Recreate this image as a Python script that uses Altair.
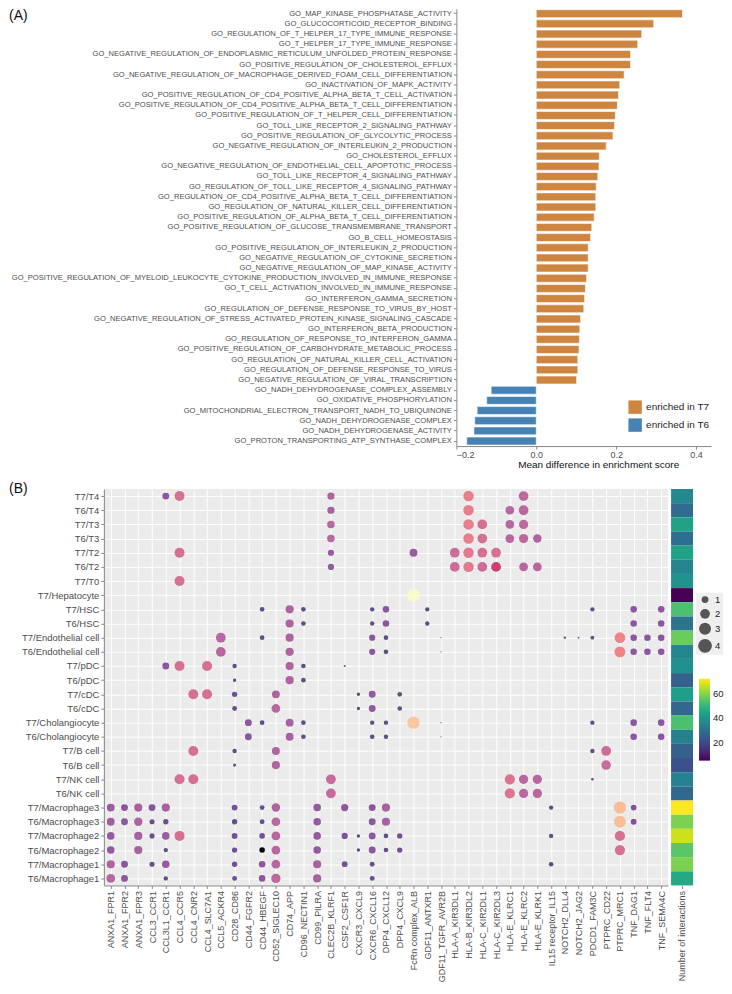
import altair as alt
import pandas as pd

FONT = "Liberation Sans"

# ---------------- Panel A data ----------------
go_terms = [
    "GO_MAP_KINASE_PHOSPHATASE_ACTIVITY",
    "GO_GLUCOCORTICOID_RECEPTOR_BINDING",
    "GO_REGULATION_OF_T_HELPER_17_TYPE_IMMUNE_RESPONSE",
    "GO_T_HELPER_17_TYPE_IMMUNE_RESPONSE",
    "GO_NEGATIVE_REGULATION_OF_ENDOPLASMIC_RETICULUM_UNFOLDED_PROTEIN_RESPONSE",
    "GO_POSITIVE_REGULATION_OF_CHOLESTEROL_EFFLUX",
    "GO_NEGATIVE_REGULATION_OF_MACROPHAGE_DERIVED_FOAM_CELL_DIFFERENTIATION",
    "GO_INACTIVATION_OF_MAPK_ACTIVITY",
    "GO_POSITIVE_REGULATION_OF_CD4_POSITIVE_ALPHA_BETA_T_CELL_ACTIVATION",
    "GO_POSITIVE_REGULATION_OF_CD4_POSITIVE_ALPHA_BETA_T_CELL_DIFFERENTIATION",
    "GO_POSITIVE_REGULATION_OF_T_HELPER_CELL_DIFFERENTIATION",
    "GO_TOLL_LIKE_RECEPTOR_2_SIGNALING_PATHWAY",
    "GO_POSITIVE_REGULATION_OF_GLYCOLYTIC_PROCESS",
    "GO_NEGATIVE_REGULATION_OF_INTERLEUKIN_2_PRODUCTION",
    "GO_CHOLESTEROL_EFFLUX",
    "GO_NEGATIVE_REGULATION_OF_ENDOTHELIAL_CELL_APOPTOTIC_PROCESS",
    "GO_TOLL_LIKE_RECEPTOR_4_SIGNALING_PATHWAY",
    "GO_REGULATION_OF_TOLL_LIKE_RECEPTOR_4_SIGNALING_PATHWAY",
    "GO_REGULATION_OF_CD4_POSITIVE_ALPHA_BETA_T_CELL_DIFFERENTIATION",
    "GO_REGULATION_OF_NATURAL_KILLER_CELL_DIFFERENTIATION",
    "GO_POSITIVE_REGULATION_OF_ALPHA_BETA_T_CELL_DIFFERENTIATION",
    "GO_POSITIVE_REGULATION_OF_GLUCOSE_TRANSMEMBRANE_TRANSPORT",
    "GO_B_CELL_HOMEOSTASIS",
    "GO_POSITIVE_REGULATION_OF_INTERLEUKIN_2_PRODUCTION",
    "GO_NEGATIVE_REGULATION_OF_CYTOKINE_SECRETION",
    "GO_NEGATIVE_REGULATION_OF_MAP_KINASE_ACTIVITY",
    "GO_POSITIVE_REGULATION_OF_MYELOID_LEUKOCYTE_CYTOKINE_PRODUCTION_INVOLVED_IN_IMMUNE_RESPONSE",
    "GO_T_CELL_ACTIVATION_INVOLVED_IN_IMMUNE_RESPONSE",
    "GO_INTERFERON_GAMMA_SECRETION",
    "GO_REGULATION_OF_DEFENSE_RESPONSE_TO_VIRUS_BY_HOST",
    "GO_NEGATIVE_REGULATION_OF_STRESS_ACTIVATED_PROTEIN_KINASE_SIGNALING_CASCADE",
    "GO_INTERFERON_BETA_PRODUCTION",
    "GO_REGULATION_OF_RESPONSE_TO_INTERFERON_GAMMA",
    "GO_POSITIVE_REGULATION_OF_CARBOHYDRATE_METABOLIC_PROCESS",
    "GO_REGULATION_OF_NATURAL_KILLER_CELL_ACTIVATION",
    "GO_REGULATION_OF_DEFENSE_RESPONSE_TO_VIRUS",
    "GO_NEGATIVE_REGULATION_OF_VIRAL_TRANSCRIPTION",
    "GO_NADH_DEHYDROGENASE_COMPLEX_ASSEMBLY",
    "GO_OXIDATIVE_PHOSPHORYLATION",
    "GO_MITOCHONDRIAL_ELECTRON_TRANSPORT_NADH_TO_UBIQUINONE",
    "GO_NADH_DEHYDROGENASE_COMPLEX",
    "GO_NADH_DEHYDROGENASE_ACTIVITY",
    "GO_PROTON_TRANSPORTING_ATP_SYNTHASE_COMPLEX",
]
go_diff = [0.366, 0.294, 0.264, 0.254, 0.236, 0.236, 0.220, 0.209, 0.206, 0.203,
           0.198, 0.196, 0.192, 0.175, 0.158, 0.157, 0.154, 0.150, 0.149, 0.149,
           0.145, 0.139, 0.136, 0.130, 0.130, 0.130, 0.126, 0.123, 0.121, 0.119,
           0.111, 0.109, 0.108, 0.107, 0.104, 0.104, 0.101,
           -0.113, -0.124, -0.148, -0.154, -0.156, -0.174]
groups = ["enriched in T7", "enriched in T6"]
group_colors = ["#CD853F", "#4682B4"]

# ---------------- Panel B data ----------------
cell_pairs = ["T7/T4", "T6/T4", "T7/T3", "T6/T3", "T7/T2", "T6/T2", "T7/T0",
              "T7/Hepatocyte", "T7/HSC", "T6/HSC", "T7/Endothelial cell",
              "T6/Endothelial cell", "T7/pDC", "T6/pDC", "T7/cDC", "T6/cDC",
              "T7/Cholangiocyte", "T6/Cholangiocyte", "T7/B cell", "T6/B cell",
              "T7/NK cell", "T6/NK cell", "T7/Macrophage3", "T6/Macrophage3",
              "T7/Macrophage2", "T6/Macrophage2", "T7/Macrophage1", "T6/Macrophage1"]
lr_pairs = ["ANXA1_FPR1", "ANXA1_FPR2", "ANXA1_FPR3", "CCL3_CCR1", "CCL3L1_CCR1",
            "CCL4_CCR5", "CCL4_CNR2", "CCL4_SLC7A1", "CCL5_ACKR4", "CD28_CD86",
            "CD44_FGFR2", "CD44_HBEGF", "CD52_SIGLEC10", "CD74_APP", "CD96_NECTIN1",
            "CD99_PILRA", "CLEC2B_KLRF1", "CSF2_CSF1R", "CXCR3_CXCL9", "CXCR6_CXCL16",
            "DPP4_CXCL12", "DPP4_CXCL9", "FcRn complex_ALB", "GDF11_ANTXR1",
            "GDF11_TGFR_AVR2B", "HLA-A_KIR3DL1", "HLA-B_KIR3DL2", "HLA-C_KIR2DL1",
            "HLA-C_KIR2DL3", "HLA-E_KLRC1", "HLA-E_KLRC2", "HLA-E_KLRK1",
            "IL15 receptor_IL15", "NOTCH2_DLL4", "NOTCH2_JAG2", "PDCD1_FAM3C",
            "PTPRC_CD22", "PTPRC_MRC1", "TNF_DAG1", "TNF_FLT4", "TNF_SEMA4C"]
n_interactions = [37, 29, 44, 30, 44, 36, 40, 6, 53, 31, 57, 36, 39, 26, 43, 28,
                  53, 35, 26, 22, 35, 28, 72, 59, 67, 55, 59, 46]

# (cell pair, ligand_receptor, size value, colour value)
dots = [
    ("T7/T4", "CCL3L1_CCR1", 1.0, 0.30), ("T7/T4", "CCL4_CCR5", 2.1, 0.55),
    ("T7/T4", "CLEC2B_KLRF1", 1.1, 0.42), ("T7/T4", "HLA-B_KIR3DL2", 2.3, 0.62),
    ("T7/T4", "HLA-E_KLRC2", 2.0, 0.47),
    ("T6/T4", "CLEC2B_KLRF1", 1.1, 0.40), ("T6/T4", "HLA-B_KIR3DL2", 2.3, 0.62),
    ("T6/T4", "HLA-E_KLRC1", 1.6, 0.45), ("T6/T4", "HLA-E_KLRC2", 2.0, 0.47),
    ("T7/T3", "CLEC2B_KLRF1", 1.2, 0.45), ("T7/T3", "HLA-B_KIR3DL2", 2.3, 0.62),
    ("T7/T3", "HLA-C_KIR2DL1", 2.0, 0.55), ("T7/T3", "HLA-E_KLRC1", 1.6, 0.45),
    ("T7/T3", "HLA-E_KLRC2", 1.8, 0.47),
    ("T6/T3", "CLEC2B_KLRF1", 1.2, 0.45), ("T6/T3", "HLA-B_KIR3DL2", 2.3, 0.62),
    ("T6/T3", "HLA-C_KIR2DL1", 2.0, 0.55), ("T6/T3", "HLA-E_KLRC1", 1.6, 0.45),
    ("T6/T3", "HLA-E_KLRC2", 1.8, 0.47), ("T6/T3", "HLA-E_KLRK1", 1.5, 0.42),
    ("T7/T2", "CCL4_CCR5", 2.1, 0.55), ("T7/T2", "CLEC2B_KLRF1", 0.8, 0.33),
    ("T7/T2", "FcRn complex_ALB", 1.3, 0.35), ("T7/T2", "HLA-A_KIR3DL1", 2.0, 0.52),
    ("T7/T2", "HLA-B_KIR3DL2", 2.3, 0.60), ("T7/T2", "HLA-C_KIR2DL1", 2.0, 0.55),
    ("T7/T2", "HLA-C_KIR2DL3", 2.0, 0.55),
    ("T6/T2", "CLEC2B_KLRF1", 0.8, 0.33), ("T6/T2", "HLA-A_KIR3DL1", 2.0, 0.52),
    ("T6/T2", "HLA-B_KIR3DL2", 2.3, 0.60), ("T6/T2", "HLA-C_KIR2DL1", 2.0, 0.52),
    ("T6/T2", "HLA-C_KIR2DL3", 2.0, 0.55), ("T6/T2", "HLA-E_KLRC2", 1.6, 0.45),
    ("T6/T2", "HLA-E_KLRK1", 1.6, 0.45),
    ("T7/T0", "CCL4_CCR5", 2.1, 0.55),
    ("T7/Hepatocyte", "FcRn complex_ALB", 3.6, 1.0),
    ("T7/HSC", "CD44_HBEGF", 0.45, 0.15), ("T7/HSC", "CD74_APP", 1.4, 0.42),
    ("T7/HSC", "CD96_NECTIN1", 0.45, 0.15), ("T7/HSC", "CXCR6_CXCL16", 0.4, 0.15),
    ("T7/HSC", "DPP4_CXCL12", 0.9, 0.30), ("T7/HSC", "GDF11_ANTXR1", 0.4, 0.15),
    ("T7/HSC", "PDCD1_FAM3C", 0.4, 0.15), ("T7/HSC", "TNF_DAG1", 0.9, 0.30),
    ("T7/HSC", "TNF_SEMA4C", 0.9, 0.30),
    ("T6/HSC", "CD74_APP", 1.4, 0.42), ("T6/HSC", "CD96_NECTIN1", 0.45, 0.15),
    ("T6/HSC", "CXCR6_CXCL16", 0.4, 0.15), ("T6/HSC", "DPP4_CXCL12", 0.9, 0.30),
    ("T6/HSC", "GDF11_ANTXR1", 0.4, 0.15), ("T6/HSC", "TNF_DAG1", 0.9, 0.30),
    ("T6/HSC", "TNF_SEMA4C", 0.9, 0.30),
    ("T7/Endothelial cell", "CCL5_ACKR4", 2.0, 0.45), ("T7/Endothelial cell", "CD44_HBEGF", 0.45, 0.15),
    ("T7/Endothelial cell", "CD74_APP", 1.4, 0.42), ("T7/Endothelial cell", "CXCR6_CXCL16", 0.8, 0.30),
    ("T7/Endothelial cell", "DPP4_CXCL12", 0.45, 0.15), ("T7/Endothelial cell", "GDF11_TGFR_AVR2B", 0.03, 0.15),
    ("T7/Endothelial cell", "NOTCH2_DLL4", 0.12, 0.15), ("T7/Endothelial cell", "NOTCH2_JAG2", 0.07, 0.15),
    ("T7/Endothelial cell", "PDCD1_FAM3C", 0.3, 0.15), ("T7/Endothelial cell", "PTPRC_MRC1", 2.4, 0.65),
    ("T7/Endothelial cell", "TNF_DAG1", 0.9, 0.30), ("T7/Endothelial cell", "TNF_FLT4", 0.9, 0.30),
    ("T7/Endothelial cell", "TNF_SEMA4C", 0.9, 0.30),
    ("T6/Endothelial cell", "CCL5_ACKR4", 2.0, 0.45), ("T6/Endothelial cell", "CD74_APP", 1.4, 0.42),
    ("T6/Endothelial cell", "CXCR6_CXCL16", 0.8, 0.30), ("T6/Endothelial cell", "DPP4_CXCL12", 0.45, 0.15),
    ("T6/Endothelial cell", "GDF11_TGFR_AVR2B", 0.03, 0.15), ("T6/Endothelial cell", "PTPRC_MRC1", 2.5, 0.65),
    ("T6/Endothelial cell", "TNF_DAG1", 0.9, 0.30), ("T6/Endothelial cell", "TNF_FLT4", 0.9, 0.30),
    ("T6/Endothelial cell", "TNF_SEMA4C", 0.9, 0.30),
    ("T7/pDC", "CCL3L1_CCR1", 1.0, 0.30), ("T7/pDC", "CCL4_CCR5", 2.1, 0.55),
    ("T7/pDC", "CCL4_SLC7A1", 2.1, 0.55), ("T7/pDC", "CD28_CD86", 0.4, 0.15),
    ("T7/pDC", "CD74_APP", 1.4, 0.42), ("T7/pDC", "CD96_NECTIN1", 0.45, 0.15),
    ("T7/pDC", "CSF2_CSF1R", 0.08, 0.15),
    ("T6/pDC", "CD28_CD86", 0.25, 0.15), ("T6/pDC", "CD74_APP", 1.4, 0.42),
    ("T6/pDC", "CD96_NECTIN1", 0.45, 0.15),
    ("T7/cDC", "CCL4_CNR2", 2.1, 0.55), ("T7/cDC", "CCL4_SLC7A1", 2.1, 0.55),
    ("T7/cDC", "CD28_CD86", 0.6, 0.20), ("T7/cDC", "CD52_SIGLEC10", 1.3, 0.42),
    ("T7/cDC", "CXCR3_CXCL9", 0.25, 0.15), ("T7/cDC", "CXCR6_CXCL16", 1.0, 0.32),
    ("T7/cDC", "DPP4_CXCL9", 0.45, 0.15),
    ("T6/cDC", "CD28_CD86", 0.5, 0.18), ("T6/cDC", "CD52_SIGLEC10", 1.6, 0.45),
    ("T6/cDC", "CXCR3_CXCL9", 0.25, 0.15), ("T6/cDC", "CXCR6_CXCL16", 1.0, 0.32),
    ("T6/cDC", "DPP4_CXCL9", 0.45, 0.15),
    ("T7/Cholangiocyte", "CD44_FGFR2", 1.0, 0.30), ("T7/Cholangiocyte", "CD44_HBEGF", 0.45, 0.15),
    ("T7/Cholangiocyte", "CD74_APP", 1.3, 0.40), ("T7/Cholangiocyte", "CD96_NECTIN1", 0.45, 0.15),
    ("T7/Cholangiocyte", "CXCR6_CXCL16", 0.4, 0.15), ("T7/Cholangiocyte", "DPP4_CXCL12", 0.4, 0.15),
    ("T7/Cholangiocyte", "FcRn complex_ALB", 3.2, 0.85), ("T7/Cholangiocyte", "GDF11_TGFR_AVR2B", 0.03, 0.15),
    ("T7/Cholangiocyte", "PDCD1_FAM3C", 0.4, 0.15), ("T7/Cholangiocyte", "TNF_DAG1", 0.9, 0.30),
    ("T7/Cholangiocyte", "TNF_SEMA4C", 0.9, 0.30),
    ("T6/Cholangiocyte", "CD44_FGFR2", 1.0, 0.30), ("T6/Cholangiocyte", "CD74_APP", 1.3, 0.40),
    ("T6/Cholangiocyte", "CD96_NECTIN1", 0.45, 0.15), ("T6/Cholangiocyte", "CXCR6_CXCL16", 0.45, 0.15),
    ("T6/Cholangiocyte", "DPP4_CXCL12", 0.4, 0.15), ("T6/Cholangiocyte", "GDF11_TGFR_AVR2B", 0.03, 0.15),
    ("T6/Cholangiocyte", "TNF_DAG1", 0.9, 0.30), ("T6/Cholangiocyte", "TNF_SEMA4C", 0.9, 0.30),
    ("T7/B cell", "CCL4_CNR2", 2.1, 0.55), ("T7/B cell", "CD28_CD86", 0.4, 0.15),
    ("T7/B cell", "CD52_SIGLEC10", 1.3, 0.42), ("T7/B cell", "PDCD1_FAM3C", 0.4, 0.15),
    ("T7/B cell", "PTPRC_CD22", 2.0, 0.52),
    ("T6/B cell", "CD28_CD86", 0.2, 0.15), ("T6/B cell", "CD52_SIGLEC10", 1.4, 0.42),
    ("T6/B cell", "PTPRC_CD22", 1.9, 0.50),
    ("T7/NK cell", "CCL4_CCR5", 2.1, 0.55), ("T7/NK cell", "CCL4_CNR2", 2.1, 0.55),
    ("T7/NK cell", "CLEC2B_KLRF1", 2.0, 0.50), ("T7/NK cell", "HLA-E_KLRC1", 2.2, 0.57),
    ("T7/NK cell", "HLA-E_KLRC2", 1.8, 0.45), ("T7/NK cell", "HLA-E_KLRK1", 1.8, 0.45),
    ("T7/NK cell", "PDCD1_FAM3C", 0.15, 0.15),
    ("T6/NK cell", "CLEC2B_KLRF1", 2.0, 0.50), ("T6/NK cell", "HLA-E_KLRC1", 2.2, 0.57),
    ("T6/NK cell", "HLA-E_KLRC2", 1.8, 0.45), ("T6/NK cell", "HLA-E_KLRK1", 1.8, 0.45),
    ("T7/Macrophage3", "ANXA1_FPR1", 1.3, 0.35), ("T7/Macrophage3", "ANXA1_FPR2", 1.0, 0.30),
    ("T7/Macrophage3", "ANXA1_FPR3", 1.4, 0.40), ("T7/Macrophage3", "CCL3_CCR1", 1.0, 0.28),
    ("T7/Macrophage3", "CCL3L1_CCR1", 1.4, 0.40), ("T7/Macrophage3", "CD28_CD86", 0.7, 0.22),
    ("T7/Macrophage3", "CD44_HBEGF", 0.5, 0.18), ("T7/Macrophage3", "CD52_SIGLEC10", 1.5, 0.42),
    ("T7/Macrophage3", "CD99_PILRA", 1.2, 0.33), ("T7/Macrophage3", "CSF2_CSF1R", 1.1, 0.30),
    ("T7/Macrophage3", "CXCR6_CXCL16", 1.0, 0.30), ("T7/Macrophage3", "DPP4_CXCL12", 1.4, 0.40),
    ("T7/Macrophage3", "IL15 receptor_IL15", 0.4, 0.15), ("T7/Macrophage3", "PTPRC_MRC1", 3.2, 0.82),
    ("T7/Macrophage3", "TNF_DAG1", 0.7, 0.25),
    ("T6/Macrophage3", "ANXA1_FPR1", 1.3, 0.38), ("T6/Macrophage3", "ANXA1_FPR2", 1.0, 0.30),
    ("T6/Macrophage3", "ANXA1_FPR3", 1.5, 0.42), ("T6/Macrophage3", "CCL3_CCR1", 0.55, 0.18),
    ("T6/Macrophage3", "CCL3L1_CCR1", 0.6, 0.18), ("T6/Macrophage3", "CD28_CD86", 0.6, 0.18),
    ("T6/Macrophage3", "CD44_HBEGF", 0.5, 0.18), ("T6/Macrophage3", "CD52_SIGLEC10", 1.6, 0.45),
    ("T6/Macrophage3", "CD99_PILRA", 1.2, 0.33), ("T6/Macrophage3", "CXCR6_CXCL16", 1.0, 0.30),
    ("T6/Macrophage3", "DPP4_CXCL12", 1.4, 0.40), ("T6/Macrophage3", "PTPRC_MRC1", 3.0, 0.82),
    ("T6/Macrophage3", "TNF_DAG1", 0.7, 0.25),
    ("T7/Macrophage2", "ANXA1_FPR1", 1.2, 0.33), ("T7/Macrophage2", "ANXA1_FPR3", 1.4, 0.40),
    ("T7/Macrophage2", "CCL3_CCR1", 0.55, 0.18), ("T7/Macrophage2", "CCL3L1_CCR1", 1.2, 0.35),
    ("T7/Macrophage2", "CCL4_CCR5", 2.1, 0.55), ("T7/Macrophage2", "CD28_CD86", 0.7, 0.22),
    ("T7/Macrophage2", "CD44_HBEGF", 0.65, 0.22), ("T7/Macrophage2", "CD52_SIGLEC10", 1.6, 0.45),
    ("T7/Macrophage2", "CD99_PILRA", 1.2, 0.33), ("T7/Macrophage2", "CSF2_CSF1R", 0.8, 0.25),
    ("T7/Macrophage2", "CXCR3_CXCL9", 0.25, 0.15), ("T7/Macrophage2", "CXCR6_CXCL16", 1.0, 0.30),
    ("T7/Macrophage2", "DPP4_CXCL12", 0.45, 0.15), ("T7/Macrophage2", "DPP4_CXCL9", 0.6, 0.20),
    ("T7/Macrophage2", "IL15 receptor_IL15", 0.4, 0.15), ("T7/Macrophage2", "PTPRC_MRC1", 2.2, 0.55),
    ("T6/Macrophage2", "ANXA1_FPR1", 1.2, 0.33), ("T6/Macrophage2", "ANXA1_FPR3", 1.4, 0.40),
    ("T6/Macrophage2", "CCL3L1_CCR1", 0.4, 0.15), ("T6/Macrophage2", "CD28_CD86", 0.6, 0.20),
    ("T6/Macrophage2", "CD44_HBEGF", 0.65, 0.03), ("T6/Macrophage2", "CD52_SIGLEC10", 1.6, 0.45),
    ("T6/Macrophage2", "CD99_PILRA", 1.2, 0.33), ("T6/Macrophage2", "CXCR3_CXCL9", 0.25, 0.15),
    ("T6/Macrophage2", "CXCR6_CXCL16", 1.0, 0.30), ("T6/Macrophage2", "DPP4_CXCL12", 0.45, 0.15),
    ("T6/Macrophage2", "DPP4_CXCL9", 0.6, 0.20), ("T6/Macrophage2", "PTPRC_MRC1", 2.2, 0.55),
    ("T7/Macrophage1", "ANXA1_FPR1", 1.4, 0.42), ("T7/Macrophage1", "ANXA1_FPR2", 1.0, 0.30),
    ("T7/Macrophage1", "CCL3_CCR1", 0.55, 0.18), ("T7/Macrophage1", "CCL3L1_CCR1", 1.2, 0.33),
    ("T7/Macrophage1", "CD28_CD86", 0.6, 0.20), ("T7/Macrophage1", "CD44_HBEGF", 0.9, 0.30),
    ("T7/Macrophage1", "CD52_SIGLEC10", 1.6, 0.45), ("T7/Macrophage1", "CD99_PILRA", 1.4, 0.40),
    ("T7/Macrophage1", "CSF2_CSF1R", 0.7, 0.22), ("T7/Macrophage1", "CXCR6_CXCL16", 0.5, 0.18),
    ("T7/Macrophage1", "IL15 receptor_IL15", 0.45, 0.15),
    ("T6/Macrophage1", "ANXA1_FPR1", 1.6, 0.45), ("T6/Macrophage1", "ANXA1_FPR2", 1.0, 0.30),
    ("T6/Macrophage1", "CCL3L1_CCR1", 0.4, 0.15), ("T6/Macrophage1", "CD28_CD86", 0.5, 0.18),
    ("T6/Macrophage1", "CD44_HBEGF", 0.9, 0.30), ("T6/Macrophage1", "CD52_SIGLEC10", 1.8, 0.47),
    ("T6/Macrophage1", "CD99_PILRA", 1.4, 0.40), ("T6/Macrophage1", "CXCR6_CXCL16", 0.5, 0.18),
]
opaque_dots = [("T6/T2", "HLA-C_KIR2DL3"), ("T6/Macrophage2", "CD44_HBEGF")]
size_legend_values = [1, 2, 3, 4]
count_legend_values = [20, 40, 60]

# ---------------- build tables ----------------
bars_df = pd.DataFrame({
    "term": go_terms,
    "diff": go_diff,
    "group": [groups[0] if v > 0 else groups[1] for v in go_diff],
})
dots_df = pd.DataFrame(dots, columns=["cell", "lr", "size", "tone"])
dots_df["op"] = [1.0 if (c, l) in opaque_dots else 0.72 for c, l in zip(dots_df.cell, dots_df.lr)]
heat_df = pd.DataFrame({"cell": cell_pairs, "n": n_interactions,
                        "label": ["Number of interactions"] * len(cell_pairs)})

LABEL_COLOR = "#4d4d4d"
AXIS_COLOR = "#888888"


def spacer():
    # empty 1px view used only to anchor each row at its left edge
    return alt.Chart(pd.DataFrame({"a": [0]})).mark_point(opacity=0, size=0).encode(
        x=alt.value(0), y=alt.value(0)
    ).properties(width=1, height=1)


# ---------------- Panel A ----------------
PA_LEFT = 448
PA_W, PA_H = 255, 438
bars = alt.Chart(bars_df).mark_bar(stroke="white", strokeWidth=0.6).encode(
    x=alt.X("diff:Q", stack=None,
            scale=alt.Scale(domain=[-0.2, 0.4375], nice=False, zero=False),
            axis=alt.Axis(values=[-0.2, 0.0, 0.2, 0.4], format=".1f", grid=False,
                          title="Mean difference in enrichment score", titleX=142,
                          titleFontSize=10, titleFontWeight="normal", titleColor="#111111",
                          titlePadding=0,
                          labelFontSize=9, labelColor=LABEL_COLOR, domainColor=AXIS_COLOR,
                          tickColor=AXIS_COLOR, tickSize=3, labelPadding=1)),
    y=alt.Y("term:N", sort=go_terms,
            scale=alt.Scale(paddingInner=0.22, paddingOuter=0.1),
            axis=alt.Axis(title=None, labelLimit=600, labelFontSize=7.6, labelColor=LABEL_COLOR,
                          domainColor=AXIS_COLOR, tickColor=AXIS_COLOR, tickSize=3,
                          labelPadding=2)),
    color=alt.Color("group:N",
                    scale=alt.Scale(domain=groups, range=group_colors),
                    legend=alt.Legend(orient="none", legendX=172, legendY=392, title=None,
                                      symbolType="square", symbolSize=180, symbolStrokeWidth=0,
                                      labelFontSize=10, labelColor="#222222", rowPadding=4,
                                      direction="vertical")),
)
label_a = alt.Chart(pd.DataFrame({"t": ["(A)"]})).mark_text(
    align="left", baseline="middle", fontSize=14, color="#111111"
).encode(text="t:N", x=alt.value(-PA_LEFT), y=alt.value(7))
panel_a = alt.layer(bars, label_a).properties(width=PA_W, height=PA_H)

# ---------------- Panel B ----------------
PB_LEFT = 95
PB_W, PB_H = 565, 397
dot_layer = alt.Chart(dots_df).mark_circle().encode(
    x=alt.X("lr:N", sort=lr_pairs,
            scale=alt.Scale(domain=lr_pairs, paddingInner=0, paddingOuter=0.1),
            axis=alt.Axis(title=None, labelAngle=270, bandPosition=0.5, grid=True,
                          gridColor="white", gridWidth=1, labelFontSize=9,
                          labelColor=LABEL_COLOR, domainColor=AXIS_COLOR, tickColor=AXIS_COLOR,
                          tickSize=3, labelPadding=2, labelLimit=300)),
    y=alt.Y("cell:N", sort=cell_pairs,
            scale=alt.Scale(domain=cell_pairs, paddingInner=0, paddingOuter=0),
            axis=alt.Axis(title=None, bandPosition=0.5, grid=True, gridColor="white",
                          gridWidth=1, labelFontSize=9.5, labelColor=LABEL_COLOR,
                          domainColor=AXIS_COLOR, tickColor=AXIS_COLOR, tickSize=3,
                          labelPadding=2)),
    size=alt.Size("size:Q", scale=alt.Scale(domain=[0, 4], range=[0, 191], zero=True),
                  legend=alt.Legend(orient="none", legendX=PB_W + 3 + 22 + 3, legendY=104,
                                    title=None, values=size_legend_values,
                                    symbolFillColor="#555555", symbolStrokeWidth=0,
                                    symbolOpacity=1, labelFontSize=9.5, labelColor="#222222",
                                    fillColor="#efefef", padding=2, rowPadding=4,
                                    labelOffset=3, direction="vertical")),
    color=alt.Color("tone:Q", scale=alt.Scale(scheme="magma", domain=[0, 1]), legend=None),
    opacity=alt.Opacity("op:Q", scale=None, legend=None),
)
label_b = alt.Chart(pd.DataFrame({"t": ["(B)"]})).mark_text(
    align="left", baseline="middle", fontSize=14, color="#111111"
).encode(text="t:N", x=alt.value(-PB_LEFT), y=alt.value(0))
panel_dots = alt.layer(dot_layer, label_b).properties(
    width=PB_W, height=PB_H, view=alt.ViewBackground(fill="#ebebeb", strokeWidth=0))

heat = alt.Chart(heat_df).mark_rect().encode(
    x=alt.X("label:N",
            axis=alt.Axis(title=None, labelAngle=270, labelFontSize=9, labelColor=LABEL_COLOR,
                          domain=False, tickColor=AXIS_COLOR, tickSize=3, labelPadding=2)),
    y=alt.Y("cell:N", sort=cell_pairs,
            scale=alt.Scale(domain=cell_pairs, paddingInner=0, paddingOuter=0), axis=None),
    color=alt.Color("n:Q", scale=alt.Scale(scheme="viridis", domain=[6, 72]),
                    legend=alt.Legend(orient="none", legendX=28, legendY=190, title=None,
                                      values=count_legend_values, gradientLength=82,
                                      gradientThickness=11, direction="vertical",
                                      labelFontSize=9.5, labelColor="#222222",
                                      labelOffset=3, gradientStrokeWidth=0)),
).properties(width=22, height=PB_H)

RES = dict(color="independent", size="independent", opacity="independent")
LEG = dict(color="independent", size="independent")

panel_b_inner = alt.hconcat(panel_dots, heat, spacing=3, bounds="flush").resolve_scale(
    **RES).resolve_legend(**LEG)

row_a = alt.hconcat(spacer(), panel_a, spacing=0).resolve_scale(**RES).resolve_legend(**LEG)
row_b = alt.hconcat(spacer(), panel_b_inner, spacing=0).resolve_scale(**RES).resolve_legend(**LEG)

chart = alt.vconcat(row_a, row_b, spacing=13).resolve_scale(**RES).resolve_legend(
    **LEG
).properties(padding=0).configure(font=FONT).configure_view(strokeWidth=0)

chart.save("out.html", embed_options={"renderer": "svg", "actions": False})
